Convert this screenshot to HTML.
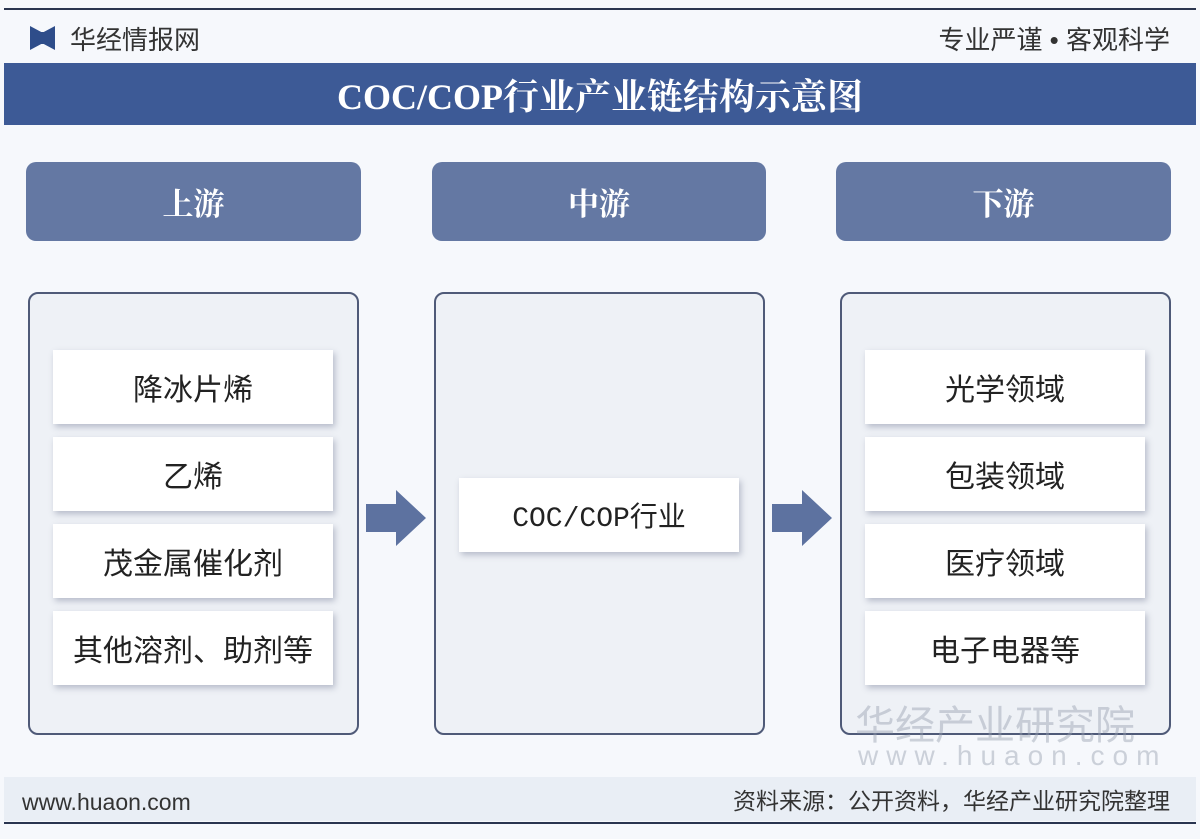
<!DOCTYPE html>
<html><head><meta charset="utf-8"><style>
*{margin:0;padding:0;box-sizing:border-box}
body{width:1200px;height:839px;background:#f6f8fc;position:relative;overflow:hidden;font-family:"Liberation Sans","Noto Sans CJK SC",sans-serif}
.a{position:absolute}
.hd{background:#6478a3;border-radius:10px;color:#fff;font-size:31px;font-weight:bold;display:flex;align-items:center;justify-content:center;top:162px;height:79px;font-family:"Noto Serif CJK SC",serif}
.bx{background:#eef1f6;border:2px solid #4f5a78;border-radius:10px;top:292px;height:443px}
.it{background:#fff;box-shadow:2px 3px 6px rgba(80,90,120,.35);color:#222;font-size:30px;display:flex;align-items:center;justify-content:center;height:74px;width:280px}
</style></head><body>
<div class="a" style="left:4px;top:8px;width:1192px;height:2px;background:#2a3550"></div>
<div class="a" style="left:30px;top:26px;width:25px;height:24px;background:#2e4d8a;clip-path:polygon(0 0,45% 25%,55% 25%,100% 0,100% 100%,55% 75%,45% 75%,0 100%)"></div>
<div class="a" style="left:70px;top:20px;font-size:26px;color:#333">华经情报网</div>
<div class="a" style="right:30px;top:20px;font-size:26px;color:#333">专业严谨 • 客观科学</div>
<div class="a" style="left:4px;top:63px;width:1192px;height:62px;background:#3d5a96;color:#fff;font-size:36px;font-weight:bold;display:flex;align-items:center;justify-content:center;font-family:'Liberation Serif','Noto Serif CJK SC',serif">COC/COP行业产业链结构示意图</div>
<div class="a hd" style="left:26px;width:335px">上游</div>
<div class="a hd" style="left:432px;width:334px">中游</div>
<div class="a hd" style="left:836px;width:335px">下游</div>
<div class="a bx" style="left:28px;width:331px"></div>
<div class="a bx" style="left:434px;width:331px"></div>
<div class="a bx" style="left:840px;width:331px"></div>
<div class="a it" style="left:53px;top:350px">降冰片烯</div>
<div class="a it" style="left:53px;top:437px">乙烯</div>
<div class="a it" style="left:53px;top:524px">茂金属催化剂</div>
<div class="a it" style="left:53px;top:611px">其他溶剂、助剂等</div>
<div class="a it" style="left:459px;top:478px;font-family:'Liberation Mono','Noto Sans CJK SC',monospace;font-size:28px">COC/COP行业</div>
<div class="a it" style="left:865px;top:350px">光学领域</div>
<div class="a it" style="left:865px;top:437px">包装领域</div>
<div class="a it" style="left:865px;top:524px">医疗领域</div>
<div class="a it" style="left:865px;top:611px">电子电器等</div>
<svg class="a" style="left:364px;top:488px" width="64" height="60"><polygon points="2,16 32,16 32,2 62,30 32,58 32,44 2,44" fill="#5d72a0"/></svg>
<svg class="a" style="left:770px;top:488px" width="64" height="60"><polygon points="2,16 32,16 32,2 62,30 32,58 32,44 2,44" fill="#5d72a0"/></svg>
<div class="a" style="left:855px;top:693px;font-size:40px;color:rgba(150,160,175,.45)">华经产业研究院</div>
<div class="a" style="left:858px;top:740px;font-size:28px;letter-spacing:8px;color:rgba(150,160,175,.45)">www.huaon.com</div>
<div class="a" style="left:4px;top:777px;width:1192px;height:44px;background:#e9eef5"></div>
<div class="a" style="left:22px;top:788px;font-size:23px;line-height:28px;color:#333">www.huaon.com</div>
<div class="a" style="right:30px;top:786px;font-size:23px;line-height:30px;color:#333">资料来源：公开资料，华经产业研究院整理</div>
<div class="a" style="left:4px;top:822px;width:1192px;height:2px;background:#2a3550"></div>
</body></html>
